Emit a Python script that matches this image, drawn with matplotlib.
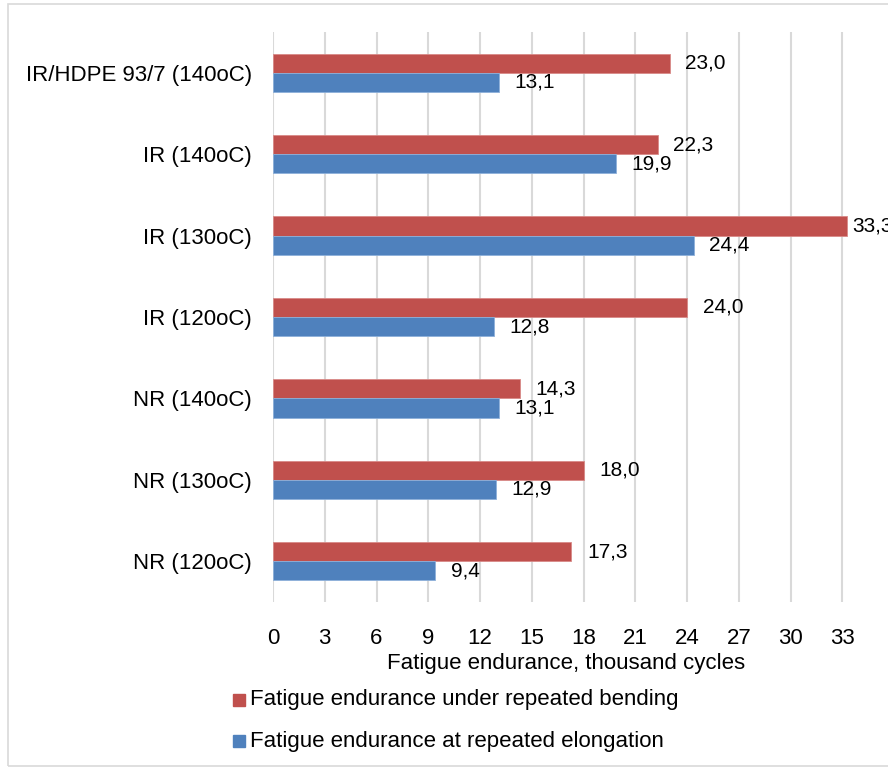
import numpy as np
import matplotlib
matplotlib.use('Agg')
import matplotlib.pyplot as plt
from matplotlib.patches import Rectangle

plt.rcParams['font.family'] = ['Liberation Sans', 'DejaVu Sans']

# samples, listed bottom to top
samples = ["NR (120oC)", "NR (130oC)", "NR (140oC)", "IR (120oC)",
           "IR (130oC)", "IR (140oC)", "IR/HDPE 93/7 (140oC)"]
bending = [17.3, 18.0, 14.3, 24.0, 33.3, 22.3, 23.0]
elongation = [9.4, 12.9, 13.1, 12.8, 24.4, 19.9, 13.1]
xticks = list(range(0, 34, 3))

red = '#C0504D'
blue = '#4F81BD'
grid_c = '#D9D9D9'

fig = plt.figure(figsize=(8.88, 7.7), dpi=100)
# axes spans slightly past the right edge of the figure
ax = fig.add_axes([273 / 888, 1 - 602 / 770, 621 / 888, 570 / 770])

y = np.arange(len(samples))
h = 0.235
ax.barh(y + h / 2, bending, height=h, color=red, edgecolor='#D88A88', linewidth=0.6, zorder=3)
ax.barh(y - h / 2, elongation, height=h, color=blue, edgecolor='#8DB0DA', linewidth=0.6, zorder=3)

def fmt(v):
    return f"{v:.1f}".replace('.', ',')

def put_label(v, yy):
    # labels close to the right edge sit tighter against their bar
    off = 0.9 if v < 32 else 0.3
    ax.text(v + off, yy, fmt(v), va='center', ha='left', fontsize=15, zorder=4, clip_on=False)

for yi, b, e in zip(y, bending, elongation):
    put_label(b, yi + h / 2)
    put_label(e, yi - h / 2)

ax.set_xlim(0, 36)
ax.set_ylim(-0.5, len(samples) - 0.5)
ax.set_xticks(xticks)
ax.set_xticklabels([str(t) for t in xticks], fontsize=16)
ax.set_yticks(y)
ax.set_yticklabels(samples, fontsize=16)
ax.tick_params(axis='both', length=0)
ax.tick_params(axis='x', pad=19)
ax.tick_params(axis='y', pad=15)

for t in xticks:
    ax.axvline(t, color=grid_c, lw=1.5, zorder=1)
for s in ax.spines.values():
    s.set_visible(False)

ax.set_xlabel("Fatigue endurance, thousand cycles", fontsize=16)
ax.xaxis.set_label_coords((566 - 273) / 621, -(51 / 570))

# legend entries
for yy, c, txt in [(700, red, "Fatigue endurance under repeated bending"),
                   (741, blue, "Fatigue endurance at repeated elongation")]:
    fig.patches.append(Rectangle((233 / 888, 1 - (yy + 6) / 770), 12 / 888, 12 / 770,
                                 transform=fig.transFigure, color=c))
    fig.text(250 / 888, 1 - yy / 770, txt, fontsize=16, va='center', ha='left')

# chart frame
fig.patches.append(Rectangle((8 / 888, 4 / 770), 1.1, 1 - 8 / 770, transform=fig.transFigure,
                             fill=False, edgecolor='#D9D9D9', lw=1.2))

fig.savefig('out.png', dpi=100)
